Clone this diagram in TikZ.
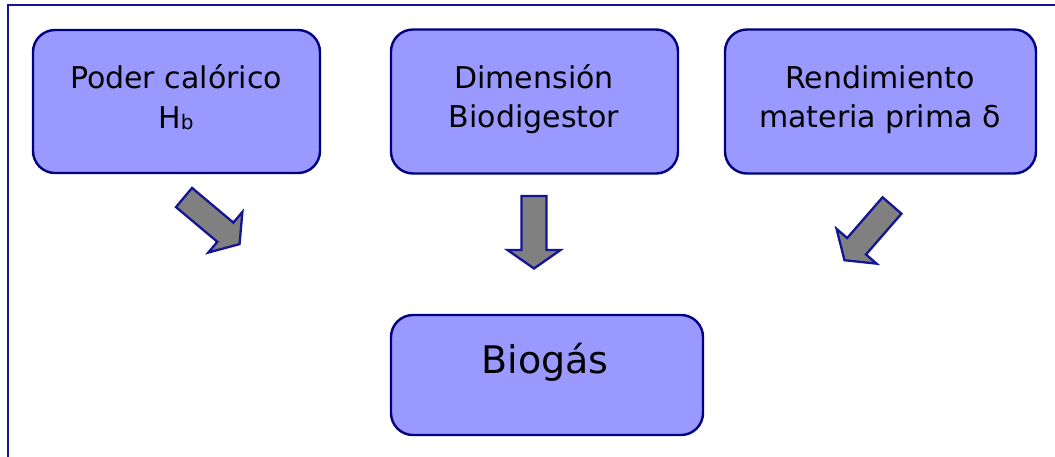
\documentclass[tikz,border=0pt]{standalone}
\usepackage{fontspec}
\setmainfont{DejaVu Sans}
\definecolor{boxfill}{RGB}{153,153,255}
\definecolor{boxline}{RGB}{0,0,128}
\definecolor{frameline}{RGB}{20,20,150}
\definecolor{arrowfill}{RGB}{128,128,128}
\begin{document}
\begin{tikzpicture}[x=1pt,y=-1pt,
  boxstyle/.style={draw=boxline,fill=boxfill,line width=2.4pt,rounded corners=22pt},
  txt/.style={inner sep=0pt,anchor=base,font=\fontsize{30}{36}\selectfont},
  bigtxt/.style={inner sep=0pt,anchor=base,font=\fontsize{38}{44}\selectfont},
  barrow/.pic={\draw[draw=frameline,fill=arrowfill,line width=2.3pt]
     (0,12.5) -- (54,12.5) -- (54,26.5) -- (72.5,0) -- (54,-26.5) -- (54,-12.5) -- (0,-12.5) -- cycle;}]
\useasboundingbox (0,0) rectangle (1055,456);
\fill[white] (0,0) rectangle (1055,456);
% outer frame
\coordinate (fa) at (8,458);
\coordinate (fb) at (8,5);
\coordinate (fc) at (1057,5);
\draw[frameline,line width=2.5pt] (fa) -- (fb) -- (fc);
% boxes
\node[boxstyle,minimum width=287pt,minimum height=143pt] (box1) at (176.5,101.5) {};
\node[boxstyle,minimum width=287pt,minimum height=144pt] (box2) at (534.5,101.5) {};
\node[boxstyle,minimum width=311pt,minimum height=144pt] (box3) at (880.5,101.5) {};
\node[boxstyle,minimum width=312pt,minimum height=120pt] (box4) at (547,375) {};
% texts
\node[txt] (t1a) at (176,88) {Poder calórico};
\node[txt] (t1b) at (176,128) {H{\fontsize{20}{22}\selectfont\raisebox{-1pt}{b}}};
\node[txt] (t2a) at (534,88) {Dimensión};
\node[txt] (t2b) at (534,127) {Biodigestor};
\node[txt] (t3a) at (880,88) {Rendimiento};
\node[txt] (t3b) at (880,127) {materia prima δ};
\node[bigtxt] (t4) at (545,373) {Biogás};
% block arrows
\pic[rotate=-40] at (184,197.5) {barrow};
\pic[rotate=-90] at (534,196) {barrow};
\pic[rotate=-131] at (892,205.5) {barrow};
\end{tikzpicture}
\end{document}
